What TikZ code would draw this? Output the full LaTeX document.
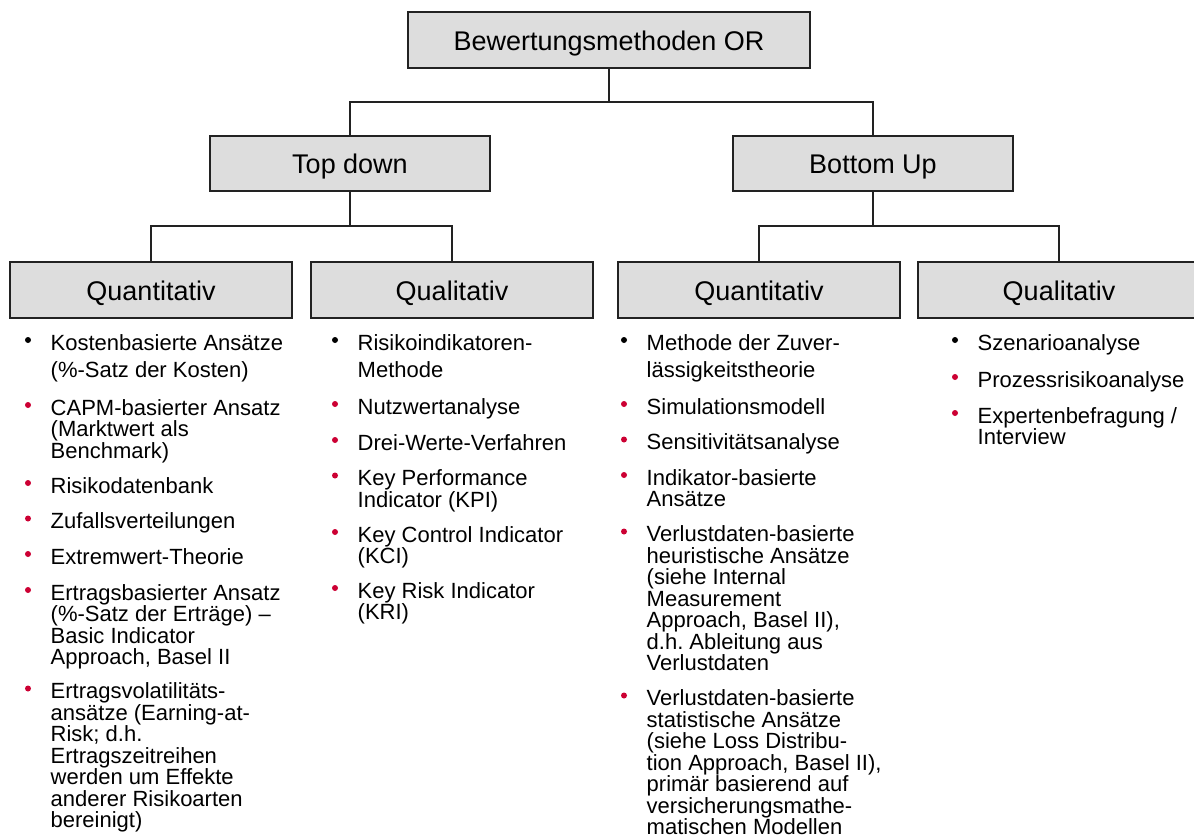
\documentclass[tikz,border=0pt]{standalone}
\usepackage{fontspec}
\setmainfont{Liberation Sans}
\frenchspacing
\newcommand\boxfont{\fontsize{27}{30}\selectfont}
\newcommand\itemfont{\fontsize{22}{22}\selectfont}
\definecolor{boxgray}{HTML}{DDDDDD}
\definecolor{edge}{HTML}{222222}
\definecolor{bulletred}{RGB}{204,0,51}
\tikzset{
  catbox/.style={draw=edge, line width=1.3pt, fill=boxgray, rectangle,
    inner sep=0pt, text height=20.5pt, text depth=0pt, font=\boxfont,
    minimum height=56pt},
  link/.style={draw=edge, line width=1.3pt},
  itemtext/.style={anchor=base west, inner sep=0pt, font=\itemfont, text=black},
}
% bullet entry: name, bullet x, first baseline y, bullet colour, line pitch, lines
% (lines that start with a parenthesis are braced so \foreach reads them as text)
\newcommand\bitem[6]{%
  \fill[#4] (#2,#3-10) circle[radius=3pt];
  \foreach \ln [count=\i from 0] in {#6} {
    \node[itemtext] (#1-\i) at (#2+22.5,#3+\i*#5) {\ln};
  }%
}
\begin{document}
\begin{tikzpicture}[x=1pt,y=-1pt]
\useasboundingbox (0,0) rectangle (1194,838);
\clip (0,0) rectangle (1194,838);

% hierarchy boxes
\node[catbox, minimum width=402pt] (root) at (609,40) {Bewertungsmethoden OR};
\node[catbox, minimum width=280pt, minimum height=55pt] (td) at (350,163.5) {Top down};
\node[catbox, minimum width=280pt, minimum height=55pt] (bu) at (873,163.5) {Bottom Up};
\node[catbox, minimum width=282pt] (tdq) at (151,290) {Quantitativ};
\node[catbox, minimum width=282pt] (tdl) at (452,290) {Qualitativ};
\node[catbox, minimum width=282pt] (buq) at (759,290) {Quantitativ};
\node[catbox, minimum width=282pt] (bul) at (1059,290) {Qualitativ};

% elbow connectors
\coordinate (j0) at (609,102);
\coordinate (j1) at (350,226);
\coordinate (j2) at (873,226);
\draw[link] (root.south) -- (j0);
\draw[link] (td.north) -- (td.north |- j0) -| (bu.north);
\draw[link] (td.south) -- (j1);
\draw[link] (tdq.north) -- (tdq.north |- j1) -| (tdl.north);
\draw[link] (bu.south) -- (j2);
\draw[link] (buq.north) -- (buq.north |- j2) -| (bul.north);

% Top down / quantitativ
\bitem{a1}{28}{350}{black}{27.5}{Kostenbasierte Ansätze, {(\%-Satz der Kosten)}}
\bitem{a2}{28}{415}{bulletred}{21.5}{CAPM-basierter Ansatz, {(Marktwert als}, Benchmark)}
\bitem{a3}{28}{493}{bulletred}{21.5}{Risikodatenbank}
\bitem{a4}{28}{528.5}{bulletred}{21.5}{Zufallsverteilungen}
\bitem{a5}{28}{564}{bulletred}{21.5}{Extremwert-Theorie}
\bitem{a6}{28}{600}{bulletred}{21.5}{Ertragsbasierter Ansatz, {(\%-Satz der Erträge) –}, Basic Indicator, {Approach, Basel II}}
\bitem{a7}{28}{698.5}{bulletred}{21.5}{Ertragsvolatilitäts-, ansätze (Earning-at-, Risk; d.h., Ertragszeitreihen, werden um Effekte, anderer Risikoarten, bereinigt)}

% Top down / qualitativ
\bitem{b1}{335}{350}{black}{27}{Risikoindikatoren-, Methode}
\bitem{b2}{335}{414}{bulletred}{21.5}{Nutzwertanalyse}
\bitem{b3}{335}{450}{bulletred}{21.5}{Drei-Werte-Verfahren}
\bitem{b4}{335}{485.5}{bulletred}{21.5}{Key Performance, Indicator (KPI)}
\bitem{b5}{335}{542}{bulletred}{21.5}{Key Control Indicator, {(KCI)}}
\bitem{b6}{335}{598}{bulletred}{21.5}{Key Risk Indicator, {(KRI)}}

% Bottom up / quantitativ
\bitem{c1}{624}{350}{black}{27}{Methode der Zuver-, lässigkeitstheorie}
\bitem{c2}{624}{414}{bulletred}{21.5}{Simulationsmodell}
\bitem{c3}{624}{449.5}{bulletred}{21.5}{Sensitivitätsanalyse}
\bitem{c4}{624}{485}{bulletred}{21.5}{Indikator-basierte, Ansätze}
\bitem{c5}{624}{541.5}{bulletred}{21.5}{Verlustdaten-basierte, heuristische Ansätze, {(siehe Internal}, Measurement, {Approach, Basel II),}, d.h. Ableitung aus, Verlustdaten}
\bitem{c6}{624}{705.5}{bulletred}{21.5}{Verlustdaten-basierte, statistische Ansätze, {(siehe Loss Distribu-}, {tion Approach, Basel II),}, primär basierend auf, versicherungsmathe-, matischen Modellen}

% Bottom up / qualitativ
\bitem{d1}{955}{350}{black}{21.5}{Szenarioanalyse}
\bitem{d2}{955}{387}{bulletred}{21.5}{Prozessrisikoanalyse}
\bitem{d3}{955}{423}{bulletred}{21.5}{Expertenbefragung /, Interview}
\end{tikzpicture}
\end{document}
